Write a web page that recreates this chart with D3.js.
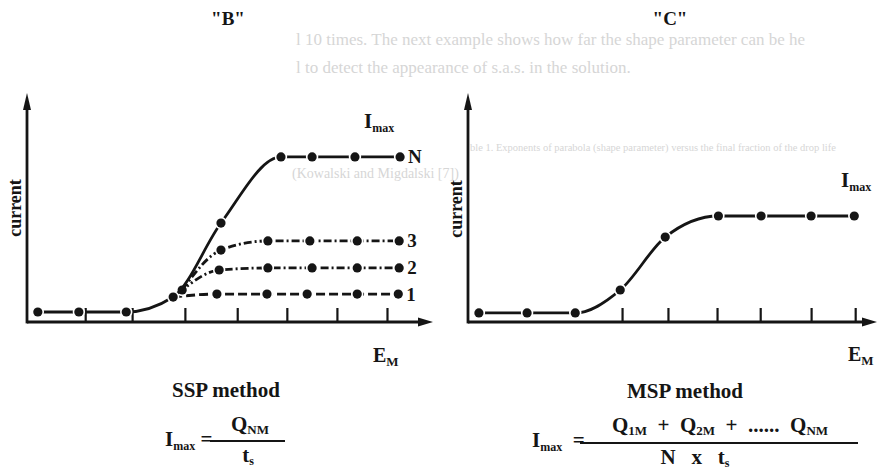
<!DOCTYPE html>
<html>
<head>
<meta charset="utf-8">
<script src="https://cdn.jsdelivr.net/npm/d3@7"></script>
<style>
  html, body { margin: 0; padding: 0; background: #ffffff; }
  svg { display: block; }
  text { font-family: "Liberation Serif", "DejaVu Serif", serif; font-weight: bold; fill: #151515; white-space: pre; }
  .ghost { font-weight: normal; fill: #d6d6d6; }
</style>
</head>
<body>
<svg id="chart" width="879" height="471"></svg>
<script>
// ---------- data (E_M in arbitrary potential units, current in arbitrary units) ----------
const panelTitles = ['"B"', '"C"'];
const methodLabels = ["SSP method", "MSP method"];
const yAxisLabel = "current";
const xAxisLabel = ["E", "M"];
const imaxLabel = ["I", "max"];

// Panel B (SSP method)
const ticksB = [1.29, 2.33, 3.50, 4.66, 5.76, 6.87, 7.98];
const seriesN_E = [0.24, 1.15, 2.20, 3.24, 4.30, 5.63, 6.32, 7.27, 8.27];
const seriesN_I = [0.44, 0.44, 0.44, 1.10, 4.36, 7.27, 7.27, 7.27, 7.27];
const series3_E = [3.44, 4.30, 5.34, 6.27, 7.32, 8.25];
const series3_I = [1.41, 3.17, 3.57, 3.57, 3.57, 3.57];
const series2_E = [3.44, 4.26, 5.34, 6.32, 7.32, 8.25];
const series2_I = [1.41, 2.29, 2.38, 2.38, 2.38, 2.38];
const series1_E = [3.24, 4.21, 5.32, 6.21, 7.32, 8.23];
const series1_I = [1.10, 1.23, 1.23, 1.23, 1.23, 1.23];
const seriesLabelsB = ["N", "3", "2", "1"];

// Panel C (MSP method)
const ticksC = [3.39, 4.40, 5.48, 6.43, 7.55, 8.52];
const seriesC_E = [0.24, 1.30, 2.36, 3.35, 4.34, 5.51, 6.45, 7.55, 8.50];
const seriesC_I = [0.40, 0.40, 0.40, 1.41, 3.74, 4.67, 4.67, 4.67, 4.67];

// background bleed-through text of the scanned page
const ghostLines = [
  "l 10 times. The next example shows how far the shape parameter can be he",
  "l to detect the appearance of s.a.s. in the solution.",
  "ble 1. Exponents of parabola (shape parameter) versus the final fraction of the drop life",
  "(Kowalski and Migdalski [7])"
];

// ---------- drawing ----------
const svg = d3.select("#chart");
const ink = "#151515";

const ghostPos = [[296, 45, 17], [296, 73, 17], [470, 151, 10.5], [292, 178, 14]];
ghostLines.forEach((t, i) => {
  svg.append("text").attr("class", "ghost")
    .attr("x", ghostPos[i][0]).attr("y", ghostPos[i][1])
    .style("font-size", ghostPos[i][2] + "px").text(t);
});

const y = d3.scaleLinear().domain([0, 10]).range([322, 95]);
const xB = d3.scaleLinear().domain([0, 9]).range([27, 433]);
const xC = d3.scaleLinear().domain([0, 9]).range([468, 877]);

function drawAxes(x, ticks) {
  const g = svg.append("g");
  const x0 = x.range()[0], x1 = x.range()[1];
  const y0 = y.range()[0], y1 = y.range()[1];
  const axis = d3.axisTop(x).tickValues(ticks).tickSize(14).tickFormat("");
  const ag = g.append("g").attr("transform", `translate(0,${y0})`).call(axis);
  ag.select(".domain").remove();
  ag.selectAll(".tick line").attr("stroke", ink).attr("stroke-width", 2.2);
  g.append("line").attr("x1", x0).attr("x2", x1 - 10).attr("y1", y0).attr("y2", y0)
    .attr("stroke", ink).attr("stroke-width", 2.8);
  g.append("line").attr("x1", x0).attr("x2", x0).attr("y1", y0 + 1.4).attr("y2", y1 + 12)
    .attr("stroke", ink).attr("stroke-width", 2.8);
  g.append("path").attr("d", `M${x1},${y0} L${x1 - 15},${y0 - 4.5} L${x1 - 15},${y0 + 4.5} Z`).attr("fill", ink);
  g.append("path").attr("d", `M${x0},${y1 - 2} L${x0 - 4},${y1 + 15} L${x0 + 4},${y1 + 15} Z`).attr("fill", ink);
}

function drawSeries(x, E, I, dash, skipFirstDot) {
  const pts = E.map((e, i) => [x(e), y(I[i])]);
  const line = d3.line().curve(d3.curveMonotoneX);
  svg.append("path").attr("d", line(pts)).attr("fill", "none")
    .attr("stroke", ink).attr("stroke-width", 2.8)
    .attr("stroke-dasharray", dash || null).attr("stroke-linecap", "butt");
  svg.append("g").selectAll("circle")
    .data(skipFirstDot ? pts.slice(1) : pts).join("circle")
    .attr("cx", d => d[0]).attr("cy", d => d[1]).attr("r", 4.6)
    .attr("fill", ink).attr("stroke", "#ffffff").attr("stroke-width", 3.2)
    .style("paint-order", "stroke");
}

drawAxes(xB, ticksB);
drawAxes(xC, ticksC);

drawSeries(xB, series1_E, series1_I, "9,4", true);
drawSeries(xB, series2_E, series2_I, "8,3,2,3", false);
drawSeries(xB, series3_E, series3_I, "8,3,2,3", true);
drawSeries(xB, seriesN_E, seriesN_I, null, false);
drawSeries(xC, seriesC_E, seriesC_I, null, false);

const lastB = [
  [seriesN_E, seriesN_I], [series3_E, series3_I], [series2_E, series2_I], [series1_E, series1_I]
];
seriesLabelsB.forEach((lab, i) => {
  const E = lastB[i][0], I = lastB[i][1];
  svg.append("text").attr("x", xB(E[E.length - 1]) + 8).attr("y", y(I[I.length - 1]) + 6.5)
    .style("font-size", "19px").text(lab);
});

svg.append("text").attr("x", 228).attr("y", 25).attr("text-anchor", "middle").style("font-size", "19px").text(panelTitles[0]);
svg.append("text").attr("x", 670).attr("y", 25).attr("text-anchor", "middle").style("font-size", "19px").text(panelTitles[1]);

[[21, 208], [462, 209]].forEach(p => {
  svg.append("text").attr("transform", `translate(${p[0]},${p[1]}) rotate(-90)`)
    .attr("text-anchor", "middle").style("font-size", "18px").text(yAxisLabel);
});

[[373, 362], [848, 361]].forEach(p => {
  const t = svg.append("text").attr("x", p[0]).attr("y", p[1]).style("font-size", "20px");
  t.append("tspan").text(xAxisLabel[0]);
  t.append("tspan").attr("dy", 4).style("font-size", "13px").text(xAxisLabel[1]);
});

[[364, 128], [841, 187]].forEach(p => {
  const t = svg.append("text").attr("x", p[0]).attr("y", p[1]).style("font-size", "21px");
  t.append("tspan").text(imaxLabel[0]);
  t.append("tspan").attr("dy", 4).style("font-size", "12px").text(imaxLabel[1]);
});

svg.append("text").attr("x", 226).attr("y", 397).attr("text-anchor", "middle").style("font-size", "21px").text(methodLabels[0]);
svg.append("text").attr("x", 685).attr("y", 398).attr("text-anchor", "middle").style("font-size", "21px").text(methodLabels[1]);

// left formula
(function () {
  let t = svg.append("text").attr("x", 165).attr("y", 446).style("font-size", "21px");
  t.append("tspan").text("I");
  t.append("tspan").attr("dy", 4).style("font-size", "12px").text("max");
  t.append("tspan").attr("dy", -4).text(" =");
  svg.append("line").attr("x1", 210).attr("x2", 285).attr("y1", 441).attr("y2", 441)
    .attr("stroke", ink).attr("stroke-width", 2);
  t = svg.append("text").attr("x", 250).attr("y", 431).attr("text-anchor", "middle").style("font-size", "21px");
  t.append("tspan").text("Q");
  t.append("tspan").attr("dy", 3).style("font-size", "13px").text("NM");
  t = svg.append("text").attr("x", 248).attr("y", 462).attr("text-anchor", "middle").style("font-size", "21px");
  t.append("tspan").text("t");
  t.append("tspan").attr("dy", 3).style("font-size", "12px").text("s");
})();
// right formula
(function () {
  let t = svg.append("text").attr("x", 532).attr("y", 447).style("font-size", "21px");
  t.append("tspan").text("I");
  t.append("tspan").attr("dy", 4).style("font-size", "12px").text("max");
  t.append("tspan").attr("dy", -4).text("  =");
  svg.append("line").attr("x1", 580).attr("x2", 858).attr("y1", 443).attr("y2", 443)
    .attr("stroke", ink).attr("stroke-width", 2);
  t = svg.append("text").attr("x", 720).attr("y", 432).attr("text-anchor", "middle").style("font-size", "21px");
  t.append("tspan").text("Q");
  t.append("tspan").attr("dy", 3).style("font-size", "13px").text("1M");
  t.append("tspan").attr("dy", -3).text("  +  Q");
  t.append("tspan").attr("dy", 3).style("font-size", "13px").text("2M");
  t.append("tspan").attr("dy", -3).text("  +  ......  Q");
  t.append("tspan").attr("dy", 3).style("font-size", "13px").text("NM");
  t = svg.append("text").attr("x", 695).attr("y", 464).attr("text-anchor", "middle").style("font-size", "21px");
  t.append("tspan").text("N   x   t");
  t.append("tspan").attr("dy", 3).style("font-size", "12px").text("s");
})();
</script>
</body>
</html>
